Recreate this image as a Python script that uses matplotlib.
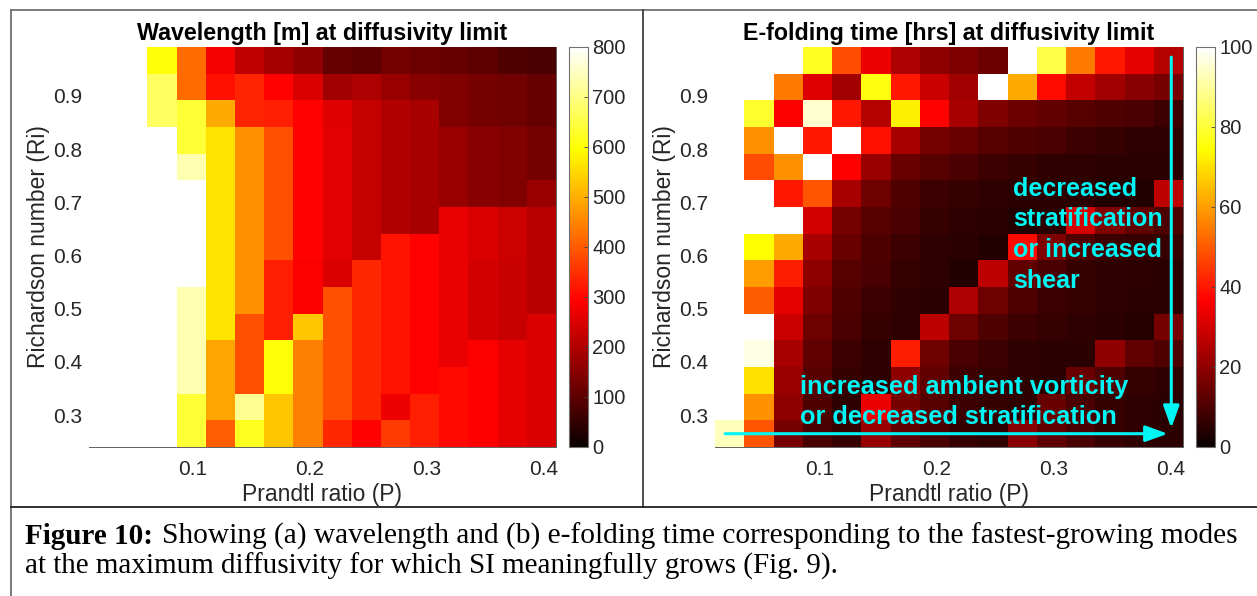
import numpy as np
import matplotlib
matplotlib.use('Agg')
import matplotlib.pyplot as plt
from matplotlib.lines import Line2D

plt.rcParams['font.family'] = ['Liberation Sans', 'DejaVu Sans']

W = 1257
H = 596
n = np.nan

# axis edges of the cells (Prandtl ratio / Richardson number)
p_edges = np.linspace(0.0111, 0.4103, 17)
ri_edges = np.linspace(0.24, 0.992, 16)
p_ticks = [0.1, 0.2, 0.3, 0.4]
ri_ticks = [0.3, 0.4, 0.5, 0.6, 0.7, 0.8, 0.9]

# wavelength [m], rows from top (high Ri) to bottom
wavelength = [
    [n, n, 600, 420, 280, 218, 187, 160, 107, 102, 128, 118, 107, 97, 86, 76],
    [n, n, 672, 420, 310, 335, 295, 248, 180, 194, 170, 152, 142, 131, 123, 112],
    [n, n, 672, 640, 495, 335, 330, 295, 254, 222, 198, 188, 142, 131, 123, 112],
    [n, n, n, 640, 565, 465, 385, 295, 257, 222, 198, 188, 170, 152, 142, 131],
    [n, n, n, 735, 565, 465, 385, 295, 257, 222, 198, 188, 170, 152, 142, 131],
    [n, n, n, n, 565, 465, 385, 295, 257, 222, 198, 188, 170, 152, 142, 170],
    [n, n, n, n, 565, 465, 385, 295, 257, 222, 198, 188, 267, 248, 233, 209],
    [n, n, n, n, 565, 465, 385, 295, 257, 222, 315, 295, 267, 248, 233, 209],
    [n, n, n, n, 565, 465, 330, 290, 248, 340, 315, 295, 267, 238, 228, 209],
    [n, n, n, 735, 565, 465, 330, 290, 385, 340, 315, 295, 267, 238, 228, 209],
    [n, n, n, 735, 565, 385, 330, 525, 385, 340, 315, 295, 267, 238, 228, 248],
    [n, n, n, 735, 490, 385, 600, 445, 385, 340, 315, 295, 267, 290, 264, 248],
    [n, n, n, 735, 490, 385, 600, 445, 385, 340, 315, 295, 300, 292, 264, 248],
    [n, n, n, 640, 490, 710, 525, 445, 385, 340, 274, 330, 300, 292, 264, 248],
    [n, n, n, 640, 405, 620, 525, 445, 340, 295, 360, 330, 300, 292, 264, 248],
]

# e-folding time [hrs], same layout
efolding = [
    [n, n, n, 78, 48, 33.9, 24.5, 19.8, 17.2, 14.6, n, 82, 55, 40, 32.9, 25.6],
    [n, n, 55, 31.8, 22.4, 76, 40, 28.7, 22.4, n, 62, 38, 27.6, 22.4, 18.8, 16.2],
    [n, 79, 36, 95, 40, 25.6, 72, 37, 23.5, 17.2, 14.6, 13, 11.5, 10.4, 9.4, 7.8],
    [n, 58, n, 40, n, 39, 23.5, 16.2, 14.1, 11.5, 10.4, 9.4, 7.8, 6.8, 5.7, 5.7],
    [n, 48, 58, n, 36.5, 21.4, 14.1, 11.5, 9.4, 7.8, 6.8, 5.7, 5.7, 4.7, 4.7, 4.7],
    [n, n, 40, 49, 23.5, 15.1, 10.4, 7.8, 6.8, 5.7, 4.7, 4.7, 4.7, 3.6, 3.6, 26.6],
    [n, n, n, 29.7, 16.2, 11.5, 9.4, 6.8, 5.7, 4.7, 3.6, 4.7, 30.8, 17.2, 13, 9.9],
    [n, 74.6, 62, 23.5, 14.1, 9.9, 7.8, 5.7, 4.7, 3.6, 38, 17.2, 10.4, 7.8, 6.8, 6.8],
    [n, 60, 41, 19.8, 11.5, 9.4, 6.8, 5.7, 3.6, 26.6, 13, 9.4, 6.8, 5.7, 5.2, 4.7],
    [n, 50, 32.9, 17.2, 10.4, 7.8, 5.7, 4.7, 24.5, 15.1, 10.4, 7.8, 6.8, 5.7, 4.7, 4.7],
    [n, n, 28.7, 15.1, 9.4, 6.8, 5.7, 26.6, 15.1, 10.4, 7.8, 6.8, 5.7, 4.7, 4.2, 16.2],
    [n, 97, 23.5, 13, 7.8, 5.7, 41, 15.1, 9.4, 7.8, 5.7, 4.7, 4.7, 20.3, 13, 10.4],
    [n, 70, 21.4, 11.5, 6.8, 5.7, 19.8, 13, 7.8, 6.8, 5.7, 4.7, 14.1, 10.4, 6.8, 5.7],
    [n, 58, 19.8, 10.4, 5.7, 33.9, 16.2, 11.5, 7.8, 6.8, 5.7, 14.1, 9.4, 6.8, 5.7, 4.7],
    [93, 49, 16.2, 9.4, 6.8, 21.4, 13, 9.4, 6.8, 5.7, 18.8, 13, 9.4, 6.8, 5.7, 4.7],
]

cmap = plt.get_cmap('hot').copy()
cmap.set_bad('white')


def pixAxes(fig, x0, y0, x1, y1):
    # pixel box, y measured from the top of the picture
    return fig.add_axes([x0 / W, 1 - y1 / H, (x1 - x0) / W, (y1 - y0) / H])


def figLine(fig, x0, y0, x1, y1, color, lw):
    fig.add_artist(Line2D([x0 / W, x1 / W], [1 - y0 / H, 1 - y1 / H],
                          color=color, lw=lw, transform=fig.transFigure))


def panel(fig, box, cbox, values, vmax, cticks, title):
    ax = pixAxes(fig, *box)
    mesh = ax.pcolormesh(p_edges, ri_edges, np.array(values, dtype=float)[::-1],
                         cmap=cmap, vmin=0, vmax=vmax)
    ax.set_xticks(p_ticks)
    ax.set_yticks(ri_ticks)
    ax.set_xticklabels(['%.1f' % v for v in p_ticks])
    ax.set_yticklabels(['%.1f' % v for v in ri_ticks])
    ax.tick_params(length=0, labelsize=15, labelcolor='#262626', pad=4.8)
    ax.tick_params(axis='x', pad=9.5)
    ax.spines['left'].set_visible(False)
    ax.spines['top'].set_visible(False)
    for s in ['bottom', 'right']:
        ax.spines[s].set_color('#606060')
        ax.spines[s].set_linewidth(0.7)
    ax.set_xlabel('Prandtl ratio (P)', fontsize=16.5, color='#262626', labelpad=2.7)
    ax.set_ylabel('Richardson number (Ri)', fontsize=16.5, color='#262626', labelpad=2)
    ax.set_title(title, fontsize=16.75, fontweight='bold', color='black', pad=5)

    cax = pixAxes(fig, *cbox)
    cb = fig.colorbar(mesh, cax=cax)
    cb.set_ticks(cticks)
    cb.ax.tick_params(direction='in', length=3, width=0.6, color='#404040',
                      labelsize=14.5, labelcolor='#262626', pad=3)
    cb.outline.set_edgecolor('#707070')
    cb.outline.set_linewidth(0.8)
    return ax


fig = plt.figure(figsize=(W / 100, H / 100), dpi=100, facecolor='white')

ax1 = panel(fig, (89, 47, 556, 447), (569, 47, 588, 447), wavelength, 800,
            [0, 100, 200, 300, 400, 500, 600, 700, 800],
            'Wavelength [m] at diffusivity limit')
ax2 = panel(fig, (715, 47, 1183, 447), (1196, 47, 1215, 447), efolding, 100,
            [0, 20, 40, 60, 80, 100],
            'E-folding time [hrs] at diffusivity limit')

# table frame round the panels
figLine(fig, 11, 10, W, 10, '#707070', 1.3)
figLine(fig, 11, 10, 11, H, '#707070', 1.3)
figLine(fig, 643, 10, 643, 507, '#404040', 1.3)
figLine(fig, 11, 507, W, 507, '#202020', 1.3)

# notes and arrows on the right panel
cyan = '#00F5F5'
for txt, y in [('decreased', 0.7243), ('stratification', 0.6679),
               ('or increased', 0.6096), ('shear', 0.5513)]:
    ax2.text(0.2657, y, txt, color=cyan, fontsize=18, fontweight='bold', va='center')
for txt, y in [('increased ambient vorticity', 0.352), ('or decreased stratification', 0.296)]:
    ax2.text(0.0834, y, txt, color=cyan, fontsize=18.25, fontweight='bold', va='center')

head = '-|>,head_length=0.75,head_width=0.27'
ax2.annotate('', xy=(0.4003, 0.2756), xytext=(0.4003, 0.973),
             arrowprops=dict(arrowstyle=head, color=cyan, lw=2.2, mutation_scale=18,
                             shrinkA=0, shrinkB=0))
ax2.annotate('', xy=(0.3974, 0.265), xytext=(0.0197, 0.265),
             arrowprops=dict(arrowstyle=head, color=cyan, lw=2.2, mutation_scale=18,
                             shrinkA=0, shrinkB=0))

# caption
fig.text(25 / W, 1 - 536 / H, 'Figure 10:', family=['Liberation Serif'], fontsize=21,
         fontweight='bold', va='center', color='black')
fig.text(162 / W, 1 - 536 / H,
         'Showing (a) wavelength and (b) e-folding time corresponding to the fastest-growing modes',
         family=['Liberation Serif'], fontsize=21.15, va='center', color='black')
fig.text(25 / W, 1 - 566 / H,
         'at the maximum diffusivity for which SI meaningfully grows (Fig. 9).',
         family=['Liberation Serif'], fontsize=21, va='center', color='black')

fig.savefig('out.png', dpi=100)
